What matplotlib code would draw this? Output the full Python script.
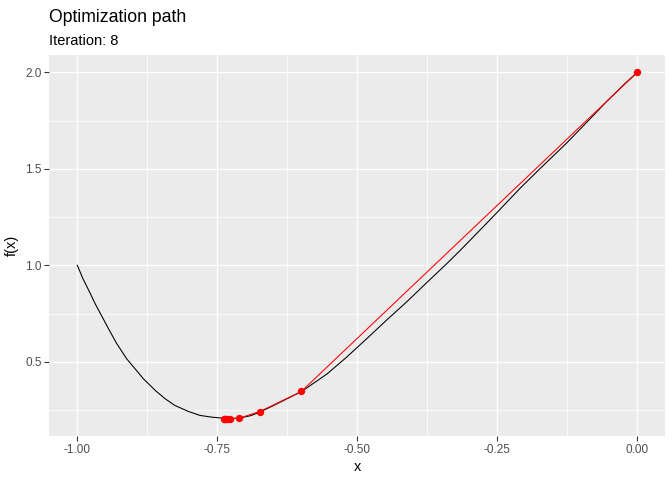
import matplotlib
matplotlib.use("Agg")
import matplotlib.pyplot as plt
from matplotlib.ticker import FixedLocator

# curve f(x)
curve_x = [-1.0, -0.990, -0.977, -0.968, -0.956, -0.945, -0.930, -0.912, -0.897,
           -0.882, -0.861, -0.843, -0.826, -0.802, -0.781, -0.760, -0.745,
           -0.730, -0.710, -0.690, -0.675, -0.656, -0.638, -0.620, -0.600,
           -0.590, -0.554, -0.519, -0.483, -0.448, -0.412, -0.376, -0.340,
           -0.317, -0.281, -0.251, -0.209, -0.174, -0.126, -0.090, -0.055,
           -0.019, 0.0]
curve_f = [1.0, 0.931, 0.855, 0.800, 0.735, 0.675, 0.596, 0.516, 0.464,
           0.412, 0.352, 0.308, 0.274, 0.243, 0.222, 0.213, 0.209,
           0.206, 0.208, 0.221, 0.238, 0.264, 0.290, 0.316, 0.345,
           0.365, 0.437, 0.524, 0.620, 0.715, 0.810, 0.910, 1.009,
           1.075, 1.182, 1.272, 1.400, 1.500, 1.634, 1.742, 1.848,
           1.950, 2.0]

# optimization path (iterations 0..8)
path_x = [0.0, -0.600, -0.674, -0.712, -0.727, -0.733, -0.736, -0.737, -0.738]
path_f = [2.0, 0.346, 0.242, 0.207, 0.205, 0.205, 0.205, 0.205, 0.205]

x_ticks = [-1.0, -0.75, -0.5, -0.25, 0.0]
x_labels = ["-1.00", "-0.75", "-0.50", "-0.25", "0.00"]
y_ticks = [0.5, 1.0, 1.5, 2.0]
y_labels = ["0.5", "1.0", "1.5", "2.0"]

title = "Optimization path"
subtitle = "Iteration: 8"

plt.rcParams['font.family'] = ['Liberation Sans', 'DejaVu Sans']

W, H = 672, 480
fig = plt.figure(figsize=(W / 96, H / 96), dpi=96)
L, R, T, B = 49.3, 665.3, 55.0, 436.0
ax = fig.add_axes([L / W, 1 - B / H, (R - L) / W, (B - T) / H])
ax.set_facecolor("#EBEBEB")
for s in ax.spines.values():
    s.set_visible(False)

allx = curve_x + path_x
ally = curve_f + path_f
xr = max(allx) - min(allx)
yr = max(ally) - min(ally)
ax.set_xlim(min(allx) - 0.05 * xr, max(allx) + 0.05 * xr)
ax.set_ylim(min(ally) - 0.05 * yr, max(ally) + 0.05 * yr)

ax.xaxis.set_major_locator(FixedLocator(x_ticks))
ax.yaxis.set_major_locator(FixedLocator(y_ticks))
ax.xaxis.set_minor_locator(FixedLocator([-0.875, -0.625, -0.375, -0.125]))
ax.yaxis.set_minor_locator(FixedLocator([0.25, 0.75, 1.25, 1.75]))
ax.set_xticklabels(x_labels)
ax.set_yticklabels(y_labels)
ax.grid(which="major", color="white", linewidth=1.0)
ax.grid(which="minor", color="white", linewidth=0.6)
ax.set_axisbelow(True)
ax.tick_params(which="major", length=3.7, width=0.8, color="#333333",
               labelsize=8.8, labelcolor="#4D4D4D", pad=2)
ax.tick_params(which="minor", length=0)

ax.plot(curve_x, curve_f, color="black", linewidth=0.8, zorder=2)
ax.plot(path_x, path_f, color="red", linewidth=0.8, zorder=3)
ax.plot(path_x, path_f, linestyle="none", marker="o", markersize=5.5,
        color="red", markeredgewidth=0, zorder=4)

ax.set_xlabel("x", fontsize=11, color="black", labelpad=3)
ax.set_ylabel("f(x)", fontsize=11, color="black", labelpad=5)

fig.text(L / W, 1 - 22 / H, title, fontsize=13.2, color="black",
         ha="left", va="baseline")
fig.text(L / W, 1 - 45 / H, subtitle, fontsize=11, color="black",
         ha="left", va="baseline")

fig.savefig("out.png", dpi=96)
